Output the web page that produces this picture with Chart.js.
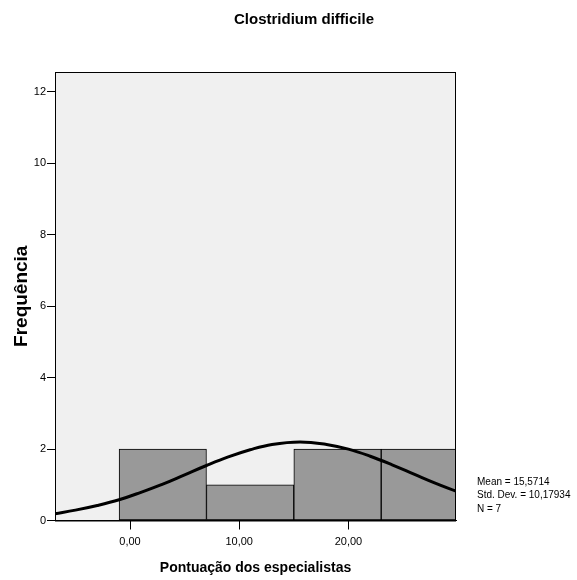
<!DOCTYPE html>
<html>
<head>
<meta charset="utf-8">
<script src="https://cdn.jsdelivr.net/npm/chart.js@4.4.1/dist/chart.umd.min.js"></script>
<style>
  html, body { margin: 0; padding: 0; background: #fff; }
  #wrap { width: 577px; height: 580px; }
</style>
</head>
<body>
<div id="wrap"><canvas id="hist-chart"></canvas></div>
<script>
// histogram bins (bin centres, width 8) and counts
const binCenters = [3, 11, 19, 27];
const binCounts = [2, 1, 2, 2];

// fitted normal curve
const curveX = [-6.87, -5, -3, -1, 1, 3, 5, 7, 9, 11, 13, 15.57, 18, 20, 22, 24, 26, 28, 29.85];
const curveY = [0.19, 0.29, 0.42, 0.58, 0.79, 1.02, 1.28, 1.54, 1.78, 1.98, 2.13, 2.2, 2.13, 2.0, 1.8, 1.56, 1.3, 1.04, 0.82];

const xTickValues = [0, 10, 20];
const yTickValues = [0, 2, 4, 6, 8, 10, 12];

const titleText = "Clostridium difficile";
const statsLines = ["Mean = 15,5714", "Std. Dev. = 10,17934", "N = 7"];

const FONT = "'Liberation Sans', Arial, sans-serif";

const frame = {
  id: "frame",
  beforeDraw(chart) {
    const { ctx, chartArea: a } = chart;
    ctx.save();
    ctx.fillStyle = "#f0f0f0";
    ctx.fillRect(a.left, a.top, a.right - a.left, a.bottom - a.top);
    ctx.restore();
  },
  afterDraw(chart) {
    const { ctx, chartArea: a } = chart;
    ctx.save();
    ctx.strokeStyle = "#000";
    ctx.lineWidth = 1;
    ctx.strokeRect(a.left + 0.5, a.top + 0.5, a.right - a.left - 1, a.bottom - a.top);
    // title
    ctx.fillStyle = "#000";
    ctx.font = "bold 15px " + FONT;
    ctx.textAlign = "center";
    ctx.textBaseline = "middle";
    ctx.fillText(titleText, 304, 20);
    // stats
    ctx.font = "10px " + FONT;
    ctx.textAlign = "left";
    statsLines.forEach((t, i) => ctx.fillText(t, 477, 482 + i * 13.7));
    ctx.restore();
  },
};

const ctx = document.getElementById("hist-chart").getContext("2d");
new Chart(ctx, {
  type: "bar",
  plugins: [frame],
  data: {
    datasets: [
      {
        type: "line",
        label: "Normal",
        data: curveX.map((x, i) => ({ x: x, y: curveY[i] })),
        borderColor: "#000",
        borderWidth: 3,
        pointRadius: 0,
        tension: 0.4,
        fill: false,
        order: 0,
      },
      {
        label: "Frequência",
        data: binCenters.map((x, i) => ({ x: x, y: binCounts[i] })),
        backgroundColor: "#999999",
        borderColor: "#000",
        borderWidth: 1,
        borderSkipped: false,
        barPercentage: 1,
        categoryPercentage: 1,
        order: 1,
      },
    ],
  },
  options: {
    responsive: true,
    maintainAspectRatio: false,
    animation: false,
    layout: { padding: { top: 72, right: 121, left: 10, bottom: 0 } },
    plugins: {
      legend: { display: false },
      tooltip: { enabled: false },
      title: { display: false },
    },
    scales: {
      x: {
        type: "linear",
        offset: false,
        min: -6.87,
        max: 29.85,
        afterFit: (s) => { s.height = 59.5; },
        afterBuildTicks: (s) => { s.ticks = xTickValues.map((v) => ({ value: v })); },
        grid: {
          display: true,
          offset: false,
          drawOnChartArea: false,
          drawTicks: true,
          tickLength: 9,
          tickColor: "#000",
          tickWidth: 1,
        },
        border: { display: true, color: "#000", width: 1 },
        ticks: {
          padding: 6,
          color: "#000",
          maxRotation: 0,
          font: { size: 11, family: FONT },
          callback: (v) => Number(v).toFixed(2).replace(".", ","),
        },
        title: {
          display: true,
          text: "Pontuação dos especialistas",
          color: "#000",
          font: { size: 14, weight: "bold", family: FONT },
          padding: { top: 0, bottom: 3 },
        },
      },
      y: {
        min: 0,
        max: 12.56,
        afterFit: (s) => { s.width = 45; },
        afterBuildTicks: (s) => { s.ticks = yTickValues.map((v) => ({ value: v })); },
        grid: {
          display: true,
          drawOnChartArea: false,
          drawTicks: true,
          tickLength: 8,
          tickColor: "#000",
          tickWidth: 1,
        },
        border: { display: true, color: "#000", width: 1 },
        ticks: {
          padding: 1,
          color: "#000",
          font: { size: 11, family: FONT },
        },
        title: {
          display: true,
          text: "Frequência",
          color: "#000",
          font: { size: 19, weight: "bold", family: FONT },
          padding: { top: 0, bottom: 0 },
        },
      },
    },
  },
});
</script>
</body>
</html>
